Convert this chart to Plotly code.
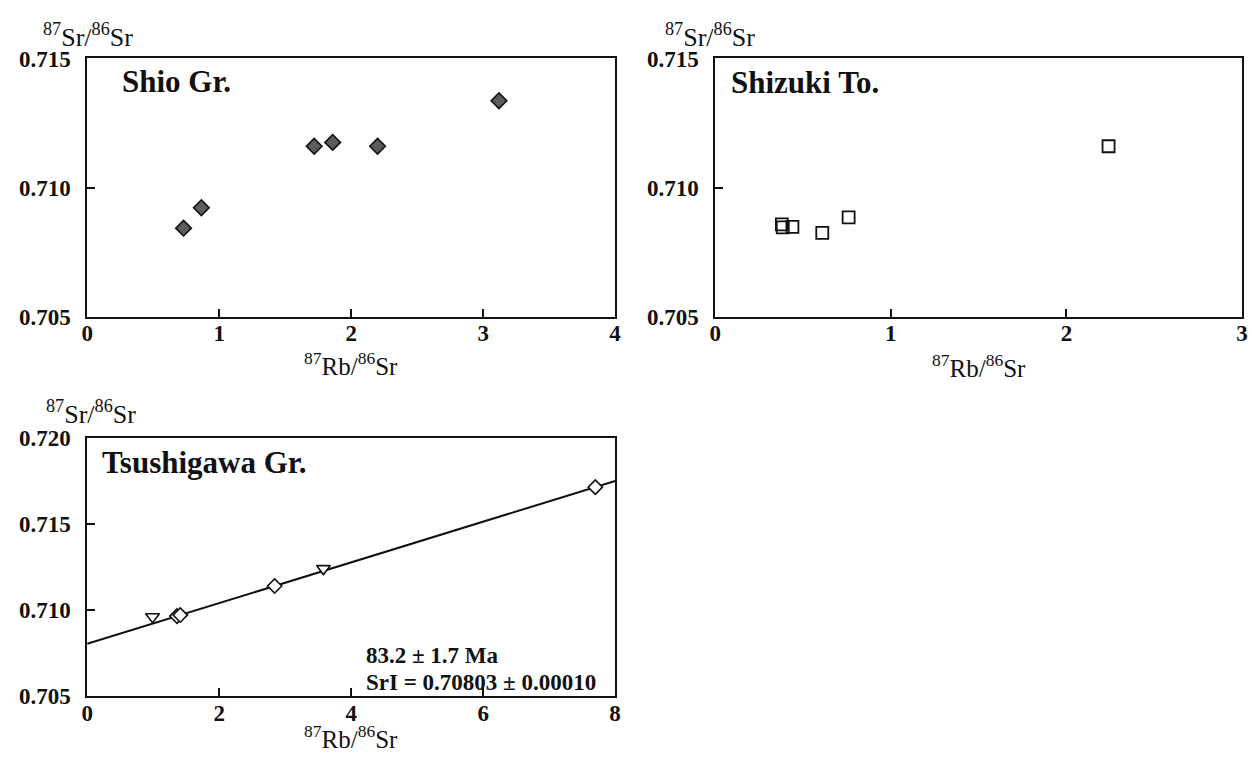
import math
import plotly.graph_objects as go

# ---- data -------------------------------------------------------------
# Shio Group (filled diamonds)
shio_rb = [0.73, 0.865, 1.72, 1.86, 2.20, 3.12]
shio_sr = [0.70843, 0.70922, 0.71160, 0.71175, 0.71160, 0.71336]

# Shizuki tonalite (open squares)
shizuki_rb = [0.38, 0.385, 0.44, 0.61, 0.76, 2.24]
shizuki_sr = [0.70858, 0.70846, 0.70848, 0.70825, 0.70885, 0.71160]

# Tsushigawa Group (open diamonds and open down-triangles)
tsu_dia_rb = [1.36, 1.41, 2.84, 7.70]
tsu_dia_sr = [0.70964, 0.70970, 0.71139, 0.71713]
tsu_tri_rb = [0.99, 3.58]
tsu_tri_sr = [0.70960, 0.71240]

# isochron result
AGE_MA = 83.2
AGE_ERR_MA = 1.7
SR_INITIAL = 0.70803
SR_INITIAL_ERR = 0.00010
LAMBDA_RB87 = 1.42e-11  # 1/yr

# ---- styling ------------------------------------------------------------
W, H = 1252, 769
SERIF = "Liberation Serif"
INK = "#111111"


def px_x(p):
    return p / W


def px_y(p):
    return 1 - p / H


fig = go.Figure()

fig.add_trace(go.Scatter(
    x=shio_rb, y=shio_sr, mode="markers", xaxis="x", yaxis="y",
    marker=dict(symbol="diamond", size=12, color="#5c5c5c",
                line=dict(color="#111111", width=1.6)),
    showlegend=False))

fig.add_trace(go.Scatter(
    x=shizuki_rb, y=shizuki_sr, mode="markers", xaxis="x2", yaxis="y2",
    marker=dict(symbol="square", size=12, color="rgba(255,255,255,0)",
                line=dict(color="#111111", width=1.8)),
    showlegend=False))

# isochron line from the stated age and initial ratio
slope = math.exp(LAMBDA_RB87 * AGE_MA * 1e6) - 1
iso_x = [0, 8]
iso_y = [SR_INITIAL + slope * v for v in iso_x]
fig.add_trace(go.Scatter(
    x=iso_x, y=iso_y, mode="lines", xaxis="x3", yaxis="y3",
    line=dict(color="#111111", width=2), showlegend=False))

fig.add_trace(go.Scatter(
    x=tsu_dia_rb, y=tsu_dia_sr, mode="markers", xaxis="x3", yaxis="y3",
    marker=dict(symbol="diamond", size=11, color="white",
                line=dict(color="#111111", width=1.6)),
    showlegend=False))
fig.add_trace(go.Scatter(
    x=tsu_tri_rb, y=tsu_tri_sr, mode="markers", xaxis="x3", yaxis="y3",
    marker=dict(symbol="triangle-down", size=12, color="white",
                line=dict(color="#111111", width=1.6)),
    showlegend=False))

tickfont = dict(family=SERIF, size=23, color=INK, weight="bold")
rbsr = "<sup>87</sup>Rb/<sup>86</sup>Sr"
srsr = "<sup>87</sup>Sr/<sup>86</sup>Sr"


def xaxis(dom, rng, dtick, anchor):
    return dict(domain=dom, range=rng, dtick=dtick, tick0=0, anchor=anchor,
                showgrid=False, zeroline=False, showline=True, mirror=True,
                linecolor=INK, linewidth=1.8, ticks="inside", ticklen=8,
                tickwidth=1.5, tickcolor=INK, tickfont=tickfont,
                ticklabelstandoff=-5)


def yaxis(dom, rng, anchor):
    return dict(domain=dom, range=rng, dtick=0.005, tick0=0.705,
                tickformat=".3f", anchor=anchor,
                showgrid=False, zeroline=False, showline=True, mirror=True,
                linecolor=INK, linewidth=1.8, ticks="inside", ticklen=8,
                tickwidth=1.5, tickcolor=INK, tickfont=tickfont,
                ticklabelstandoff=10)


top_dom = [px_y(315), px_y(48)]
bot_dom = [px_y(707), px_y(440)]
left_dom = [px_x(82), px_x(615)]
right_dom = [px_x(716), px_x(1248)]

annotations = []
# y-axis labels above each frame
for txt_x, txt_y in [(35, 24), (663, 24), (38, 414)]:
    annotations.append(dict(
        text=srsr, x=px_x(txt_x), y=px_y(txt_y), xref="paper", yref="paper",
        xanchor="left", yanchor="middle", showarrow=False,
        font=dict(family=SERIF, size=26, color=INK)))

# x-axis labels under each frame
for xr, txt_y, anchor in [("x domain", 345, "top"), ("x2 domain", 347, "top"),
                          ("x3 domain", 768, "bottom")]:
    annotations.append(dict(
        text=rbsr, x=0.5, y=px_y(txt_y), xref=xr, yref="paper",
        xanchor="center", yanchor=anchor, showarrow=False,
        font=dict(family=SERIF, size=25, color=INK)))

# panel names
for name, xr, yr, px0, py in [("Shio Gr.", "x domain", "y domain", 0.062, 0.912),
                              ("Shizuki To.", "x2 domain", "y2 domain", 0.026, 0.908),
                              ("Tsushigawa Gr.", "x3 domain", "y3 domain", 0.024, 0.905)]:
    annotations.append(dict(
        text=name, x=px0, y=py, xref=xr, yref=yr,
        xanchor="left", yanchor="middle", showarrow=False,
        font=dict(family=SERIF, size=31, color=INK, weight="bold")))

# isochron age and initial ratio, two lines meeting at one baseline gap
iso_font = dict(family=SERIF, size=23, color=INK, weight="bold")
annotations.append(dict(
    text=f"{AGE_MA:.1f} ± {AGE_ERR_MA:.1f} Ma", x=4.21, y=px_y(679),
    xref="x3", yref="paper", xanchor="left", yanchor="bottom",
    showarrow=False, font=iso_font, borderpad=0))
annotations.append(dict(
    text=f"SrI = {SR_INITIAL:.5f} ± {SR_INITIAL_ERR:.5f}", x=4.21, y=px_y(679),
    xref="x3", yref="paper", xanchor="left", yanchor="top",
    showarrow=False, font=iso_font, borderpad=0))

fig.update_layout(
    width=W, height=H, margin=dict(l=0, r=0, t=0, b=0),
    paper_bgcolor="white", plot_bgcolor="white",
    xaxis=xaxis(left_dom, [0, 4], 1, "y"),
    yaxis=yaxis(top_dom, [0.705, 0.715], "x"),
    xaxis2=xaxis(right_dom, [0, 3], 1, "y2"),
    yaxis2=yaxis(top_dom, [0.705, 0.715], "x2"),
    xaxis3=xaxis(left_dom, [0, 8], 2, "y3"),
    yaxis3=yaxis(bot_dom, [0.705, 0.720], "x3"),
    annotations=annotations,
)

fig.write_html("out.html", post_script="document.body.style.margin='0px';")
